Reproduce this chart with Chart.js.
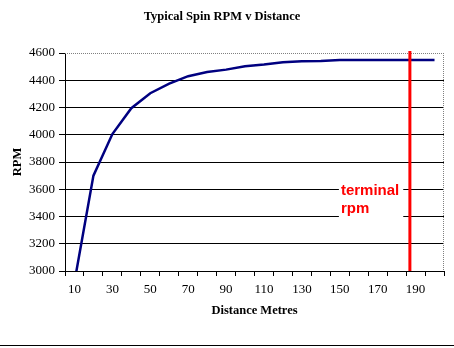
<!DOCTYPE html>
<html>
<head>
<meta charset="utf-8">
<script src="https://cdn.jsdelivr.net/npm/chart.js@4"></script>
<style>
  html, body { margin: 0; padding: 0; background: #fff; }
  #wrap { position: relative; width: 454px; height: 348px; }
  #bottomRule { position: absolute; left: 0; top: 345px; width: 454px; height: 1px; background: #000; }
</style>
</head>
<body>
<div id="wrap">
  <canvas id="c" width="454" height="348"></canvas>
  <div id="bottomRule"></div>
</div>
<script>
// ---- data ----
const distances = [10, 20, 30, 40, 50, 60, 70, 80, 90, 100, 110, 120, 130, 140, 150, 160, 170, 180, 190, 200];
const rpmValues = [2920, 3700, 4005, 4195, 4305, 4375, 4430, 4460, 4478, 4503, 4515, 4532, 4540, 4541, 4548, 4549, 4549, 4549, 4549, 4549];
const yTicks = [3000, 3200, 3400, 3600, 3800, 4000, 4200, 4400, 4600];
const terminalDistance = 187;
const terminalLabelRpm = 3560;
const terminalLabel = ['terminal', 'rpm'];
const chartTitle = 'Typical Spin RPM v Distance';
const xTitle = 'Distance Metres';
const yTitle = 'RPM';

const serif = '"Liberation Serif", "Times New Roman", serif';

const overlayPlugin = {
  id: 'overlay',
  afterDatasetsDraw(chart) {
    const { ctx, chartArea: a, scales } = chart;
    ctx.save();
    // dotted gray top & right borders
    ctx.strokeStyle = '#808080';
    ctx.lineWidth = 1;
    ctx.setLineDash([1, 1]);
    ctx.beginPath();
    ctx.moveTo(a.left, Math.round(a.top) + 0.5);
    ctx.lineTo(a.right, Math.round(a.top) + 0.5);
    ctx.moveTo(Math.round(a.right) - 0.5, a.top);
    ctx.lineTo(Math.round(a.right) - 0.5, a.bottom);
    ctx.stroke();
    ctx.setLineDash([]);

    // terminal label box
    const idx = (terminalDistance - distances[0]) / (distances[1] - distances[0]);
    const xr = scales.x.getPixelForValue(idx);
    ctx.font = 'bold 15px "Liberation Sans", Arial, sans-serif';
    ctx.textBaseline = 'alphabetic';
    ctx.textAlign = 'left';
    const tx = xr - 69;
    const ty = scales.y.getPixelForValue(terminalLabelRpm);
    const w = Math.max(...terminalLabel.map(t => ctx.measureText(t).width));
    ctx.fillStyle = '#fff';
    ctx.fillRect(tx - 2, ty - 14, w + 6, 38);
    ctx.fillStyle = '#ff0000';
    terminalLabel.forEach((t, i) => ctx.fillText(t, tx, ty + i * 18));

    // red vertical line
    ctx.strokeStyle = '#ff0000';
    ctx.lineWidth = 3;
    ctx.beginPath();
    ctx.moveTo(xr, a.top - 2);
    ctx.lineTo(xr, a.bottom);
    ctx.stroke();
    ctx.restore();
  }
};

new Chart(document.getElementById('c'), {
  type: 'line',
  data: {
    labels: distances,
    datasets: [{
      data: rpmValues,
      borderColor: '#000080',
      borderWidth: 2.5,
      pointRadius: 0,
      tension: 0,
      fill: false
    }]
  },
  options: {
    responsive: false,
    animation: false,
    devicePixelRatio: 1,
    layout: { padding: { left: 0, right: 10, top: 0, bottom: 0 } },
    plugins: {
      legend: { display: false },
      tooltip: { enabled: false },
      title: {
        display: true,
        text: chartTitle,
        color: '#000',
        font: { family: serif, size: 12.5, weight: 'bold', lineHeight: 1.2 },
        padding: { top: 9.5, bottom: 28.5 }
      }
    },
    scales: {
      x: {
        type: 'category',
        offset: true,
        grid: { offset: true, drawOnChartArea: false, drawTicks: true, tickLength: 5, color: '#000', tickColor: '#000' },
        border: { display: true, color: '#000', width: 1 },
        ticks: {
          autoSkip: false, maxRotation: 0, minRotation: 0,
          color: '#000', padding: 6,
          font: { family: serif, size: 13 },
          callback: (v, i) => (i % 2 === 0 ? String(distances[i]) : '')
        },
        title: {
          display: true, text: xTitle, color: '#000',
          font: { family: serif, size: 12.5, weight: 'bold', lineHeight: 1.2 },
          padding: { top: 0, bottom: 29.5 }
        },
        afterFit(s) { s.height = 77; }
      },
      y: {
        min: 3000, max: 4600,
        afterBuildTicks(s) { s.ticks = yTicks.map(v => ({ value: v })); },
        grid: {
          drawTicks: true, tickLength: 6, tickColor: '#000',
          color: c => (c.tick && c.tick.value === 4600 ? 'rgba(0,0,0,0)' : '#000'),
          lineWidth: 1
        },
        border: { display: true, color: '#000', width: 1 },
        ticks: {
          color: '#000', padding: 4, font: { family: serif, size: 13 },
          callback: v => String(v)
        },
        title: {
          display: true, text: yTitle, color: '#000',
          font: { family: serif, size: 12.5, weight: 'bold', lineHeight: 1.2 },
          padding: { top: 10.5, bottom: 0 }
        },
        afterFit(s) { s.width = 65; }
      }
    }
  },
  plugins: [overlayPlugin]
});
</script>
</body>
</html>
